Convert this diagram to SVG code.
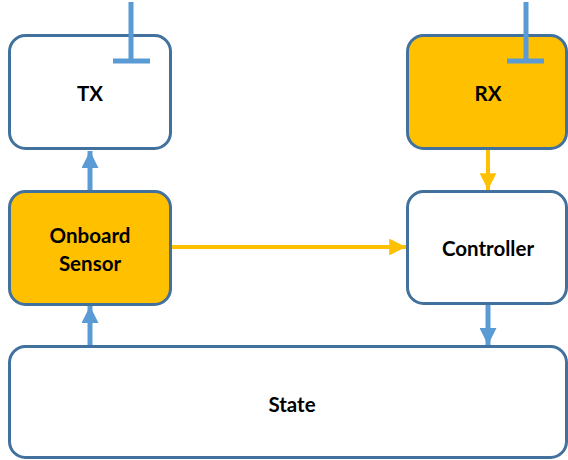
<svg xmlns="http://www.w3.org/2000/svg" width="568" height="460" viewBox="0 0 568 460">
  <style>
    .box { stroke: #41719c; stroke-width: 3; }
    .white { fill: #ffffff; }
    .gold { fill: #ffc000; }
    .lbl { font-family: Lato, "Open Sans", "Liberation Sans", sans-serif; font-weight: bold; font-size: 20.5px; fill: #000; text-anchor: middle; dominant-baseline: central; }
    .blue { stroke: #5b9bd5; stroke-width: 5; fill: none; }
    .yellow { stroke: #ffc000; stroke-width: 4; fill: none; }
    .antenna { stroke: #5b9bd5; stroke-width: 5; fill: none; }
  </style>
  <defs>
    <marker id="headBlue" viewBox="0 0 10 10" refX="10" refY="5" markerWidth="3.4" markerHeight="3.4" markerUnits="strokeWidth" orient="auto">
      <path d="M0,0 L10,5 L0,10 Z" fill="#5b9bd5"/>
    </marker>
    <marker id="headYellow" viewBox="0 0 10 10" refX="10" refY="5" markerWidth="4.2" markerHeight="4.2" markerUnits="strokeWidth" orient="auto">
      <path d="M0,0 L10,5 L0,10 Z" fill="#ffc000"/>
    </marker>
  </defs>

  <rect width="568" height="460" fill="#ffffff"/>

  <g id="tx">
    <rect class="box white" x="9.5" y="35.5" width="161" height="113" rx="16"/>
    <text class="lbl" x="90" y="93">TX</text>
    <path class="antenna" d="M131,2 V61 M113,61 H150"/>
  </g>

  <g id="rx">
    <rect class="box gold" x="407.5" y="35.5" width="159" height="113" rx="16"/>
    <text class="lbl" x="488" y="93">RX</text>
    <path class="antenna" d="M526,2 V61 M507,61 H544"/>
  </g>

  <g id="onboard-sensor">
    <rect class="box gold" x="9.5" y="191.5" width="161" height="113" rx="16"/>
    <text class="lbl" x="90" y="235">Onboard</text>
    <text class="lbl" x="90" y="263">Sensor</text>
  </g>

  <g id="controller">
    <rect class="box white" x="407.5" y="191.5" width="159" height="112" rx="16"/>
    <text class="lbl" x="488" y="248">Controller</text>
  </g>

  <g id="state">
    <rect class="box white" x="9.5" y="346.5" width="557" height="111" rx="16"/>
    <text class="lbl" x="292" y="404">State</text>
  </g>

  <g id="connectors">
    <line class="blue" x1="90" y1="190" x2="90" y2="151" marker-end="url(#headBlue)"/>
    <line class="blue" x1="90" y1="345" x2="90" y2="306" marker-end="url(#headBlue)"/>
    <line class="blue" x1="488" y1="305" x2="488" y2="345" marker-end="url(#headBlue)"/>
    <line class="yellow" x1="172" y1="247" x2="406" y2="247" marker-end="url(#headYellow)"/>
    <line class="yellow" x1="488" y1="150" x2="488" y2="190" marker-end="url(#headYellow)"/>
  </g>
</svg>
